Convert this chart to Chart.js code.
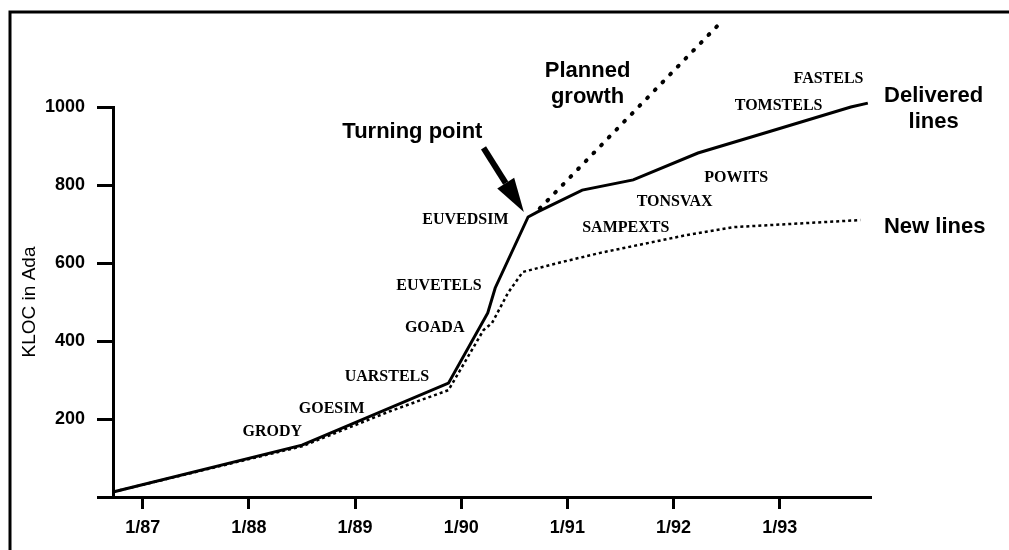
<!DOCTYPE html>
<html>
<head>
<meta charset="utf-8">
<script src="https://cdn.jsdelivr.net/npm/chart.js@4/dist/chart.umd.min.js"></script>
<style>
  html, body { margin: 0; padding: 0; background: #fff; }
  #wrap { width: 1009px; height: 550px; }
</style>
</head>
<body>
<div id="wrap"><canvas id="myChart" width="1009" height="550"></canvas></div>
<script>
// Data (x = year as 86.xx .. 93.xx, y = KLOC)
const xTicks = [87, 88, 89, 90, 91, 92, 93];
const xTickLabels = ["1/87", "1/88", "1/89", "1/90", "1/91", "1/92", "1/93"];
const yTicks = [0, 200, 400, 600, 800, 1000];

const deliveredX = [86.72, 88.5, 89.88, 90.25, 90.32, 90.63, 90.72, 91.14, 91.62, 92.23, 92.89, 93.67, 93.83];
const deliveredY = [13, 133, 292, 472, 536, 718, 731, 787, 813, 882, 936, 1000, 1010];

const newX = [86.72, 88.5, 89.33, 89.88, 90.21, 90.29, 90.44, 90.58, 90.91, 91.31, 92.13, 92.57, 93.76];
const newY = [13, 130, 220, 274, 428, 446, 523, 577, 600, 626, 672, 692, 710];

const plannedX = [90.74, 92.42];
const plannedY = [740, 1210];

// release names written along the curve
const releaseNames = ["GRODY", "GOESIM", "UARSTELS", "GOADA", "EUVETELS", "EUVEDSIM",
  "SAMPEXTS", "TONSVAX", "POWITS", "TOMSTELS", "FASTELS"];
const releaseX = [88.22, 88.78, 89.3, 89.75, 89.79, 90.04, 91.55, 92.01, 92.59, 92.99, 93.46];
const releaseY = [167, 226, 308, 433, 541, 710, 690, 756, 818, 1003, 1072];

// bigger callouts
const calloutText = [["Turning point"], ["Planned", "growth"], ["Delivered", "lines"], ["New lines"]];
const calloutX = [89.54, 91.19, 94.45, 94.46];
const calloutY = [936, 1058, 996, 692];

// arrow pointing at the turning point
const arrowFrom = { x: 90.21, y: 895 };
const arrowTo = { x: 90.59, y: 731 };

function toPoints(xs, ys) {
  return xs.map((x, i) => ({ x: x, y: ys[i] }));
}

const extras = {
  id: "extras",
  beforeDraw(chart) {
    const ctx = chart.ctx;
    ctx.save();
    ctx.fillStyle = "#fff";
    ctx.fillRect(0, 0, chart.width, chart.height);
    ctx.strokeStyle = "#000";
    ctx.lineWidth = 3;
    ctx.strokeRect(10, 12, chart.width, chart.height);
    ctx.restore();
  },
  afterDatasetsDraw(chart) {
    const ctx = chart.ctx;
    const xs = chart.scales.x;
    const ys = chart.scales.y;
    ctx.save();
    ctx.fillStyle = "#000";
    ctx.textAlign = "center";
    ctx.textBaseline = "middle";

    ctx.font = "bold 16px 'Liberation Serif', 'Times New Roman', serif";
    for (let i = 0; i < releaseNames.length; i++) {
      ctx.fillText(releaseNames[i], xs.getPixelForValue(releaseX[i]), ys.getPixelForValue(releaseY[i]));
    }

    ctx.font = "bold 22px 'Liberation Sans', Arial, sans-serif";
    for (let i = 0; i < calloutText.length; i++) {
      const lines = calloutText[i];
      const cx = xs.getPixelForValue(calloutX[i]);
      const cy = ys.getPixelForValue(calloutY[i]);
      lines.forEach((t, j) => {
        ctx.fillText(t, cx, cy + (j - (lines.length - 1) / 2) * 26);
      });
    }

    // arrow
    const x1 = xs.getPixelForValue(arrowFrom.x), y1 = ys.getPixelForValue(arrowFrom.y);
    const x2 = xs.getPixelForValue(arrowTo.x), y2 = ys.getPixelForValue(arrowTo.y);
    const ang = Math.atan2(y2 - y1, x2 - x1);
    const headLen = 34, headW = 10;
    const bx = x2 - headLen * Math.cos(ang), by = y2 - headLen * Math.sin(ang);
    ctx.strokeStyle = "#000";
    ctx.lineWidth = 6;
    ctx.beginPath();
    ctx.moveTo(x1, y1);
    ctx.lineTo(bx, by);
    ctx.stroke();
    ctx.beginPath();
    ctx.moveTo(x2, y2);
    ctx.lineTo(bx + headW * Math.sin(ang), by - headW * Math.cos(ang));
    ctx.lineTo(bx - headW * Math.sin(ang), by + headW * Math.cos(ang));
    ctx.closePath();
    ctx.fill();
    ctx.restore();
  }
};

const ctx = document.getElementById("myChart");
new Chart(ctx, {
  type: "line",
  data: {
    datasets: [
      {
        label: "Delivered lines",
        data: toPoints(deliveredX, deliveredY),
        borderColor: "#000",
        borderWidth: 3,
        pointRadius: 0,
        tension: 0,
        clip: false,
      },
      {
        label: "New lines",
        data: toPoints(newX, newY),
        borderColor: "#000",
        borderWidth: 2.5,
        borderDash: [3, 3],
        pointRadius: 0,
        tension: 0,
        clip: false,
      },
      {
        label: "Planned growth",
        data: toPoints(plannedX, plannedY),
        borderColor: "#000",
        borderWidth: 4,
        borderDash: [1, 10],
        borderCapStyle: "round",
        pointRadius: 0,
        tension: 0,
        clip: false,
      },
    ],
  },
  options: {
    responsive: false,
    animation: false,
    events: [],
    layout: { padding: { top: 107, right: 138, left: 0, bottom: 0 } },
    plugins: {
      legend: { display: false },
      tooltip: { enabled: false },
    },
    scales: {
      x: {
        type: "linear",
        min: 86.72,
        max: 93.86,
        afterBuildTicks: (scale) => {
          scale.ticks = xTicks.map((v) => ({ value: v }));
        },
        afterFit: (scale) => {
          scale.height = 53;
        },
        grid: {
          drawOnChartArea: false,
          drawTicks: true,
          tickLength: 12,
          tickColor: "#000",
          tickWidth: 3,
        },
        border: { display: true, color: "#000", width: 3 },
        ticks: {
          padding: 8,
          color: "#000",
          maxRotation: 0,
          font: { family: "'Liberation Sans', Arial, sans-serif", size: 18, weight: "bold" },
          callback: (v) => xTickLabels[xTicks.indexOf(v)],
        },
      },
      y: {
        type: "linear",
        min: 0,
        max: 1000,
        afterBuildTicks: (scale) => {
          scale.ticks = yTicks.map((v) => ({ value: v }));
        },
        afterFit: (scale) => {
          scale.width = 113;
        },
        grid: {
          drawOnChartArea: false,
          drawTicks: true,
          tickLength: 16,
          tickColor: "#000",
          tickWidth: 3,
        },
        border: { display: true, color: "#000", width: 3 },
        ticks: {
          padding: 12,
          color: "#000",
          font: { family: "'Liberation Sans', Arial, sans-serif", size: 18, weight: "bold" },
          callback: (v) => (v === 0 ? "" : v),
        },
        title: {
          display: true,
          text: "KLOC in Ada",
          color: "#000",
          padding: { top: 18, bottom: 0 },
          font: { family: "'Liberation Sans', Arial, sans-serif", size: 19 },
        },
      },
    },
  },
  plugins: [extras],
});
</script>
</body>
</html>
